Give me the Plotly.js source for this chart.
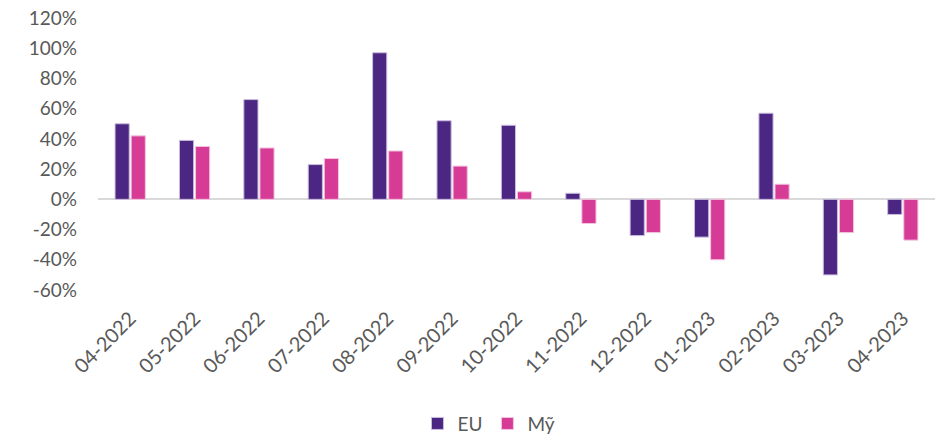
<!DOCTYPE html>
<html>
<head>
<meta charset="utf-8">
<script src="https://cdn.plot.ly/plotly-3.0.1.min.js"></script>
<style>html,body{margin:0;padding:0;background:#fff;}#chart{width:936px;height:434px;}</style>
</head>
<body>
<div id="chart"></div>
<script>
const categories = ['04-2022','05-2022','06-2022','07-2022','08-2022','09-2022','10-2022','11-2022','12-2022','01-2023','02-2023','03-2023','04-2023'];
const euValues = [0.50, 0.39, 0.66, 0.23, 0.97, 0.52, 0.49, 0.04, -0.24, -0.25, 0.57, -0.50, -0.10];
const myValues = [0.42, 0.35, 0.34, 0.27, 0.32, 0.22, 0.05, -0.16, -0.22, -0.40, 0.10, -0.22, -0.27];
const yTickVals = [-0.6, -0.4, -0.2, 0, 0.2, 0.4, 0.6, 0.8, 1.0, 1.2];
const yTickText = ['-60%', '-40%', '-20%', '0%', '20%', '40%', '60%', '80%', '100%', '120%'];

const font = {family: 'Lato, "Noto Sans", sans-serif', size: 19, color: '#595959'};
const xfont = {family: 'Lato, "Noto Sans", sans-serif', size: 20, color: '#595959'};

const traces = [
  {type: 'bar', name: 'EU', x: categories, y: euValues,
   marker: {color: '#4B2683', line: {color: '#C9BEDD', width: 1}}, hoverinfo: 'x+y'},
  {type: 'bar', name: 'Mỹ', x: categories, y: myValues,
   marker: {color: '#D63C96', line: {color: '#F3C4E0', width: 1}}, hoverinfo: 'x+y'}
];

const layout = {
  width: 936, height: 434,
  margin: {l: 98, r: 1, t: 18, b: 144, autoexpand: false},
  paper_bgcolor: '#ffffff', plot_bgcolor: '#ffffff',
  font: font,
  barmode: 'group', bargap: 0.5, bargroupgap: 0.12,
  showlegend: true,
  legend: {orientation: 'h', xref: 'container', yref: 'container', x: 0.446, xanchor: 'left',
           y: 0.024, yanchor: 'middle', font: font, traceorder: 'normal', itemwidth: 30},
  xaxis: {type: 'category', showgrid: false, showline: false, zeroline: false,
          tickangle: -45, ticks: '', tickfont: xfont, ticklabelstandoff: 12, ticklabelshift: 0,
          fixedrange: true},
  yaxis: {range: [-0.6, 1.2], tickvals: yTickVals, ticktext: yTickText,
          showgrid: false, showline: false, zeroline: true, zerolinecolor: '#D9D9D9', zerolinewidth: 2,
          ticks: '', tickfont: font, ticklabelstandoff: 20, fixedrange: true}
};

Plotly.newPlot('chart', traces, layout, {displayModeBar: false, staticPlot: true});
</script>
</body>
</html>
